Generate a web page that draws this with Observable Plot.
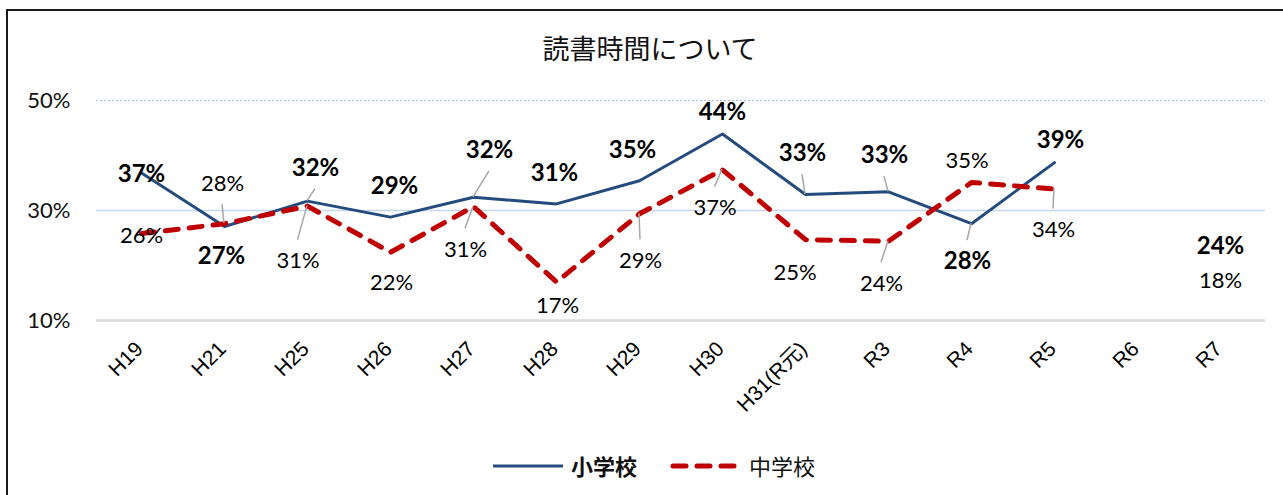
<!DOCTYPE html>
<html><head><meta charset="utf-8">
<script src="https://cdn.jsdelivr.net/npm/d3@7"></script>
<script src="https://cdn.jsdelivr.net/npm/@observablehq/plot@0.6"></script>
<style>
html,body{margin:0;padding:0;background:#fff;width:1283px;height:495px;overflow:hidden;}
#frame{position:absolute;left:6px;top:9px;width:1400px;height:600px;border:2.5px solid #1a1a1a;box-sizing:border-box;}
#title{position:absolute;left:0;width:1300px;top:31px;text-align:center;font-family:"Noto Sans CJK JP";font-size:27px;line-height:34px;color:#111;}
#chart{position:absolute;left:0;top:70px;}
#chart svg{overflow:visible;}
.leg{position:absolute;font-family:"Noto Sans CJK JP";font-size:22px;line-height:26px;color:#111;}
</style>
</head><body>
<div id="frame"></div>
<div id="title">読書時間について</div>
<div id="chart"></div>
<div id="legend"></div>
<script>
// ---- data ----
const categories = ["H19","H21","H25","H26","H27","H28","H29","H30","H31(R元)","R3","R4","R5","R6","R7"];
const elementary = [36.8, 27.1, 31.7, 28.8, 32.4, 31.2, 35.4, 43.9, 32.9, 33.4, 27.6, 38.7, null, 24.2]; // 小学校
const junior     = [25.8, 27.6, 30.8, 22.4, 30.7, 17.0, 29.4, 37.4, 24.7, 24.4, 35.1, 33.9, null, 18.0]; // 中学校
const seriesNames = ["小学校", "中学校"];
const yTicks = [10, 30, 50];

// ---- label layout (pixel offsets of data labels from their points, leader-line flags) ----
const elemLabelOffsets = [[0,1],[-3,30],[8,-33],[4,-31],[16,-47],[-2,-31],[-7,-30],[0,-22],[-3,-41],[-4,-36],[-4,38],[6,-22],null,[0,4]];
const juniorLabelOffsets = [[0,2.5],[-2,-40],[-9.5,55],[1,31],[-8,43],[1,24],[1,47],[-7.5,38.5],[-10.5,33.5],[-7,42.5],[-4.5,-21],[-1,41],null,[0,4]];
const elemLeaders   = [false,false,true,false,true,false,false,false,true,true,true,false,false,false];
const juniorLeaders = [false,true,true,false,true,false,true,true,false,true,false,true,false,false];

const BLUE = "#244b7d", RED = "#c00000";

const series = [
  {name: seriesNames[0], values: elementary, offsets: elemLabelOffsets, leaders: elemLeaders, bold: true},
  {name: seriesNames[1], values: junior, offsets: juniorLabelOffsets, leaders: juniorLeaders, bold: false}
];
const rows = s => categories.map((c, i) => ({cat: c, value: s.values[i]}));

const labelMarks = [];
for (const s of series) {
  rows(s).forEach((d, i) => {
    if (d.value == null) return;
    const [dx, dy] = s.offsets[i];
    labelMarks.push(Plot.text([d], {
      x: "cat", y: "value", text: r => Math.round(r.value) + "%",
      dx, dy, fontSize: s.bold ? 24 : 22, fontWeight: s.bold ? "bold" : "normal",
      fontFamily: "Lato", fill: "#000"
    }));
  });
}

function leaderMark(index, scales) {
  const g = d3.create("svg:g").attr("stroke", "#a6a6a6").attr("stroke-width", 1.5);
  for (const s of series) {
    s.values.forEach((v, i) => {
      if (v == null || !s.leaders[i]) return;
      const px = scales.x(categories[i]), py = scales.y(v);
      const [dx, dy] = s.offsets[i];
      const lx = px + dx, ly = py + dy - Math.sign(dy) * 21;
      g.append("line").attr("x1", lx).attr("y1", ly).attr("x2", px).attr("y2", py);
    });
  }
  return g.node();
}

const chart = Plot.plot({
  width: 1283, height: 380,
  marginLeft: 96, marginRight: 18, marginTop: 30, marginBottom: 130,
  x: {type: "point", domain: categories, padding: 0.5, axis: null, label: null},
  y: {domain: [10, 50], axis: null, label: null},
  style: {background: "transparent"},
  marks: [
    Plot.ruleY([50], {stroke: "#9fbfe4", strokeWidth: 1, strokeDasharray: "2,2"}),
    Plot.ruleY([30], {stroke: "#c6d8ee", strokeWidth: 1.3}),
    Plot.ruleY([10], {stroke: "#d9d9d9", strokeWidth: 2.5}),
    Plot.axisY({ticks: yTicks, tickFormat: d => d + "%", tickSize: 0, tickPadding: 26, label: null,
      fontSize: 22, fontFamily: "Lato", fill: "#111"}),
    Plot.axisX({tickSize: 0, tickPadding: 25, tickRotate: -45, fontSize: 21, dx: -2, label: null,
      fontFamily: "'Liberation Sans', 'Noto Sans CJK JP', sans-serif", fill: "#000"}),
    Plot.line(rows(series[0]), {x: "cat", y: "value", stroke: BLUE, strokeWidth: 3, strokeLinejoin: "round"}),
    Plot.line(rows(series[1]), {x: "cat", y: "value", stroke: RED, strokeWidth: 5,
      strokeDasharray: "13,11", strokeLinecap: "round", strokeLinejoin: "round"}),
    leaderMark,
    ...labelMarks
  ]
});
document.getElementById("chart").appendChild(chart);

// ---- legend ----
const legend = document.getElementById("legend");
const legItems = [
  {name: seriesNames[0], color: BLUE, width: 3, dash: null, sx: 493, tx: 571, bold: true},
  {name: seriesNames[1], color: RED, width: 5, dash: "13,11", sx: 670, tx: 749, bold: false}
];
for (const it of legItems) {
  const sw = d3.create("svg").attr("width", 72).attr("height", 16)
    .style("position", "absolute").style("left", it.sx + "px").style("top", "458px");
  sw.append("line").attr("x1", it.dash ? 3 : 0).attr("x2", it.dash ? 66 : 70).attr("y1", 8).attr("y2", 8)
    .attr("stroke", it.color).attr("stroke-width", it.width)
    .attr("stroke-dasharray", it.dash).attr("stroke-linecap", it.dash ? "round" : "butt");
  legend.appendChild(sw.node());
  const t = document.createElement("div");
  t.className = "leg";
  t.textContent = it.name;
  t.style.left = it.tx + "px";
  t.style.top = "452px";
  t.style.fontWeight = it.bold ? "bold" : "normal";
  legend.appendChild(t);
}
</script>
</body></html>
